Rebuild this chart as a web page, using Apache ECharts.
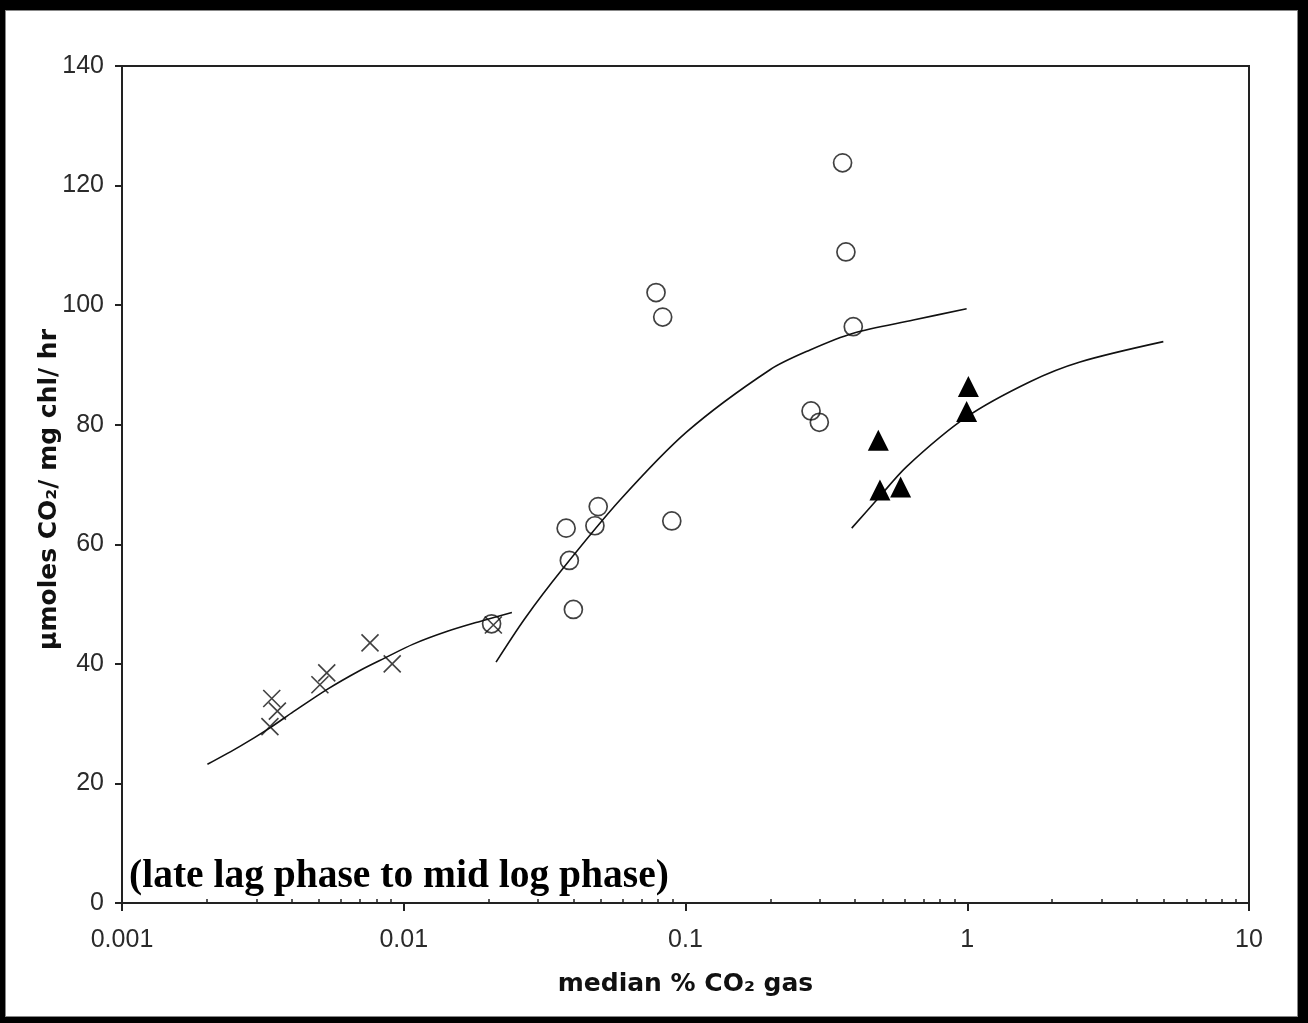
<!DOCTYPE html>
<html>
<head>
<meta charset="utf-8">
<script src="https://cdn.jsdelivr.net/npm/echarts@6/dist/echarts.min.js"></script>
<style>
  html, body { margin: 0; padding: 0; background: #000; width: 1308px; height: 1023px; overflow: hidden; }
  #frame { position: absolute; left: 5px; top: 10px; width: 1291px; height: 1005px; background: #fff; border: 1px solid #888; }
  #chart { position: absolute; left: 0; top: 0; width: 1308px; height: 1023px; }
</style>
</head>
<body>
<div id="frame"></div>
<div id="chart"></div>
<script>
// Crosses (early phase)
const crossX = [0.00759, 0.0091, 0.00533, 0.00504, 0.0034, 0.00356, 0.00335, 0.0208];
const crossY = [43.5, 40.0, 38.5, 36.5, 34.2, 32.1, 29.5, 46.5];
// Open circles
const circleX = [0.0786, 0.083, 0.361, 0.371, 0.394, 0.279, 0.2985, 0.049, 0.0377, 0.0477, 0.0894, 0.0387, 0.040, 0.0205];
const circleY = [102.1, 98.0, 123.8, 108.9, 96.4, 82.3, 80.4, 66.3, 62.7, 63.1, 63.9, 57.3, 49.1, 46.7];
// Filled triangles
const triX = [1.009, 0.995, 0.4834, 0.49, 0.58];
const triY = [86.4, 82.2, 77.4, 69.1, 69.6];
// Fitted curves
const fit1X = [0.00201, 0.00262, 0.00335, 0.00406, 0.00533, 0.00699, 0.00858, 0.01081, 0.0142, 0.01865, 0.0242];
const fit1Y = [23.2, 26.2, 29.3, 32.0, 35.7, 38.9, 41.0, 43.3, 45.4, 47.1, 48.6];
const fit2X = [0.02126, 0.02692, 0.03636, 0.05855, 0.101, 0.1995, 0.2767, 0.394, 0.6437, 0.995];
const fit2Y = [40.3, 47.6, 55.7, 67.4, 78.8, 89.2, 92.5, 95.3, 97.5, 99.4];
const fit3X = [0.389, 0.477, 0.6095, 0.995, 1.67, 2.513, 4.965];
const fit3Y = [62.7, 67.4, 73.0, 81.3, 87.2, 90.5, 93.9];
// Axis ticks
const xMin = 0.001, xMax = 10;
const xMinorTicks = [];
[0.001, 0.01, 0.1, 1].forEach(function (d) { [2,3,4,5,6,7,8,9].forEach(function (m) { xMinorTicks.push(d * m); }); });

const zip = (xs, ys) => xs.map((x, i) => [x, ys[i]]);

const chart = echarts.init(document.getElementById('chart'), null, { renderer: 'canvas' });
const labelFont = { fontFamily: 'Liberation Sans, Arial, sans-serif', fontSize: 25, color: '#2a2a2a' };

chart.setOption({
  animation: false,
  backgroundColor: 'transparent',
  title: {
    text: '(late lag phase to mid log phase)',
    left: 129, top: 857, padding: 0,
    textStyle: { fontFamily: 'Liberation Serif, Times New Roman, serif', fontWeight: 'bold', fontSize: 39.5, color: '#000' }
  },
  grid: { left: 122, top: 66, right: 59, bottom: 120, show: true, borderColor: '#222', borderWidth: 2, backgroundColor: 'transparent' },
  xAxis: [{
    type: 'log', logBase: 10, min: xMin, max: xMax,
    name: 'median % CO₂ gas', nameLocation: 'middle', nameGap: 67, nameMoveOverlap: false,
    nameTextStyle: { fontFamily: 'DejaVu Sans, sans-serif', fontWeight: 'bold', fontSize: 25, color: '#111', lineHeight: 29 },
    axisLine: { show: true, onZero: false, lineStyle: { color: '#222', width: 2 } },
    axisTick: { show: true, inside: false, length: 8, lineStyle: { color: '#222', width: 2 } },
    axisLabel: Object.assign({ margin: 25, lineHeight: 25, formatter: function (v) { return String(v); } }, labelFont),
    splitLine: { show: false }
  }, {
    // minor ticks at 2..9 of each decade, on an exponent (log10) scale
    type: 'value', min: Math.log10(xMin), max: Math.log10(xMax), position: 'bottom',
    axisLine: { show: false, onZero: false },
    axisTick: { show: true, inside: true, length: 4, customValues: xMinorTicks.map(Math.log10), lineStyle: { color: '#222', width: 1.5 } },
    axisLabel: { show: false },
    splitLine: { show: false }
  }],
  yAxis: {
    type: 'value', min: 0, max: 140, interval: 20,
    name: 'µmoles CO₂/ mg chl/ hr', nameLocation: 'middle', nameGap: 58, nameRotate: 90, nameMoveOverlap: false,
    nameTextStyle: { fontFamily: 'DejaVu Sans, sans-serif', fontWeight: 'bold', fontSize: 25, color: '#111', lineHeight: 29, padding: [0, 10, 0, 0] },
    axisLine: { show: true, onZero: false, lineStyle: { color: '#222', width: 2 } },
    axisTick: { show: true, inside: false, length: 7, lineStyle: { color: '#222', width: 2 } },
    axisLabel: Object.assign({ margin: 18 }, labelFont),
    splitLine: { show: false }
  },
  series: [
    { type: 'line', data: zip(fit1X, fit1Y), smooth: 0.3, showSymbol: false, symbol: 'none', lineStyle: { color: '#111', width: 1.6 }, z: 2 },
    { type: 'line', data: zip(fit2X, fit2Y), smooth: 0.3, showSymbol: false, symbol: 'none', lineStyle: { color: '#111', width: 1.6 }, z: 2 },
    { type: 'line', data: zip(fit3X, fit3Y), smooth: 0.3, showSymbol: false, symbol: 'none', lineStyle: { color: '#111', width: 1.6 }, z: 2 },
    { type: 'scatter', data: zip(crossX, crossY), symbol: 'path://M0,0L10,10M10,0L0,10', symbolSize: 17,
      itemStyle: { color: 'none', borderColor: '#111', borderWidth: 1.6 }, z: 3 },
    { type: 'scatter', data: zip(circleX, circleY), symbol: 'circle', symbolSize: 18,
      itemStyle: { color: 'rgba(255,255,255,0)', borderColor: '#111', borderWidth: 1.7 }, z: 4 },
    { type: 'scatter', data: zip(triX, triY), symbol: 'triangle', symbolSize: 21,
      itemStyle: { color: '#000', borderColor: '#000', borderWidth: 0, opacity: 1 }, z: 5 }
  ]
});
</script>
</body>
</html>
